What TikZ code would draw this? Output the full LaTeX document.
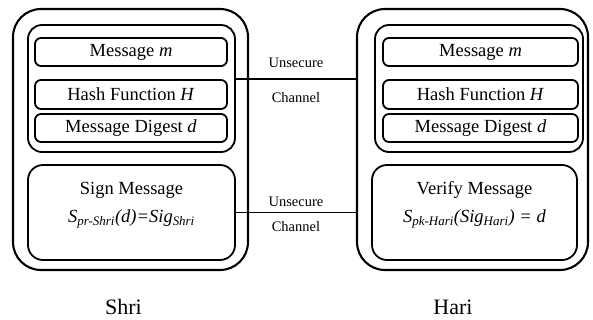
\documentclass[tikz,border=0pt]{standalone}
\usepackage{fontspec}
\setmainfont{Liberation Serif}
\usetikzlibrary{positioning}

\tikzset{
  partybox/.style={draw, line width=2.1pt, rounded corners=28pt},
  grpbox/.style={draw, line width=1.8pt, rounded corners=14pt},
  itembox/.style={draw, line width=1.8pt, rounded corners=6pt, inner sep=0pt,
    font=\fontsize{18.5}{22}\selectfont},
  stepbox/.style={draw, line width=1.8pt, rounded corners=15pt, align=center,
    inner sep=0pt, text depth=21pt, font=\fontsize{18.5}{22}\selectfont},
  channel/.style={line width=1.8pt},
  chlabel/.style={font=\fontsize{14.5}{17}\selectfont},
  partyname/.style={font=\fontsize{22}{26}\selectfont}
}

\begin{document}
\begin{tikzpicture}[x=1pt,y=-1pt]
  \useasboundingbox (0,0) rectangle (593,320);

  % Shri side
  \node[partybox, minimum width=235pt, minimum height=261pt] (shriout) at (130.5,139.5) {};
  \node[grpbox, minimum width=207pt, minimum height=127pt] (shrigrp) at (131.5,88.5) {};
  \node[itembox, minimum width=192pt, minimum height=28pt] (shrimsg) at (131,52) {Message \textit{m}};
  \node[itembox, minimum width=192pt, minimum height=29pt] (shrihash) at (131,94.5) {Hash Function \textit{H}};
  \node[itembox, minimum width=192pt, minimum height=28pt] (shridig) at (131,128) {Message Digest \textit{d}};
  \node[stepbox, minimum width=207pt, minimum height=95pt] (shrisign) at (131.5,212.5)
    {Sign Message\\[6pt]{\itshape S\textsubscript{pr-Shri}(d)=Sig\textsubscript{Shri}}};
  \node[partyname] (shri) at (123.5,307) {Shri};

  % Hari side
  \node[partybox, minimum width=231pt, minimum height=261pt] (harout) at (472.5,139.5) {};
  \node[grpbox, minimum width=208pt, minimum height=127pt] (hargrp) at (479,88.5) {};
  \node[itembox, minimum width=195pt, minimum height=28pt] (harmsg) at (480.5,52) {Message \textit{m}};
  \node[itembox, minimum width=195pt, minimum height=29pt] (harhash) at (480.5,94.5) {Hash Function \textit{H}};
  \node[itembox, minimum width=195pt, minimum height=28pt] (hardig) at (480.5,128) {Message Digest \textit{d}};
  \node[stepbox, minimum width=205pt, minimum height=95pt] (harver) at (474.5,212.5)
    {Verify Message\\[6pt]{\itshape S\textsubscript{pk-Hari}(Sig\textsubscript{Hari}) = d}};
  \node[partyname] (hari) at (453,307) {Hari};

  % channels
  \path[channel]
    (shrihash.north -| shrigrp.east) edge node[chlabel, above=7pt]{Unsecure} node[chlabel, below=9pt]{Channel} (shrihash.north -| harout.west)
    (shrisign.east) edge node[chlabel, above=2pt]{Unsecure} node[chlabel, below=5pt]{Channel} (shrisign.east -| harout.west);
\end{tikzpicture}
\end{document}
